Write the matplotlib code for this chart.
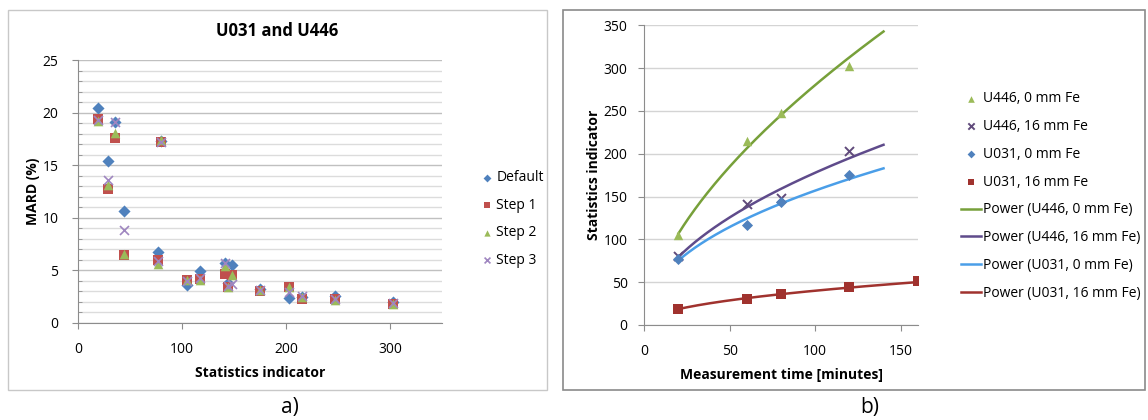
import numpy as np
import matplotlib.pyplot as plt
from matplotlib.patches import Rectangle
from matplotlib.ticker import MultipleLocator

plt.rcParams['font.family'] = ['Open Sans', 'DejaVu Sans']

# ---- panel a) MARD vs statistics indicator ----
stat_x = [19, 29, 36, 44, 77, 80, 105, 117, 141, 144, 148, 175, 203, 215, 247, 303]
mard_default = [20.4, 15.4, 19.1, 10.6, 6.75, 17.3, 3.6, 4.9, 5.7, 3.8, 5.55, 3.2, 2.4, 2.5, 2.6, 2.0]
mard_step1 = [19.4, 12.7, 17.6, 6.5, 6.0, 17.25, 4.05, 4.15, 4.63, 3.4, 4.6, 3.0, 3.4, 2.25, 2.3, 1.8]
mard_step2 = [19.2, 13.1, 18.05, 6.6, 5.6, 17.35, 4.1, 4.1, 5.4, 3.4, 4.6, 3.1, 3.45, 2.5, 2.2, 1.8]
mard_step3 = [19.3, 13.6, 19.1, 8.8, 5.9, 17.2, 4.0, 4.3, 5.7, 3.5, 3.75, 3.1, 2.9, 2.6, 2.3, 1.9]

# ---- panel b) statistics indicator vs measurement time ----
t_u446_0 = [20, 60, 80, 120]
s_u446_0 = [105, 215, 247, 303]
t_u446_16 = [20, 60, 80, 120]
s_u446_16 = [80, 141, 148, 203]
t_u031_0 = [20, 60, 80, 120]
s_u031_0 = [77, 117, 144, 175]
t_u031_16 = [20, 60, 80, 120, 160]
s_u031_16 = [19, 30, 36, 44, 51]

fig = plt.figure(figsize=(11.48, 4.2), dpi=100)

# chart frames
fig.patches.append(Rectangle((8 / 1148, 30 / 420), 539 / 1148, 380 / 420, transform=fig.transFigure,
                             fill=False, edgecolor='#c8c8c8', lw=1))
fig.patches.append(Rectangle((563 / 1148, 30 / 420), 582 / 1148, 380 / 420, transform=fig.transFigure,
                             fill=False, edgecolor='#8a8a8a', lw=1.2))

# ---------------- a) ----------------
ax1 = fig.add_axes([78 / 1148, 97 / 420, 364 / 1148, 263 / 420])
ax1.scatter(stat_x, mard_default, marker='D', s=38, color='#4F81BD', label='Default', zorder=3, lw=0)
ax1.scatter(stat_x, mard_step1, marker='s', s=48, color='#C0504D', label='Step 1', zorder=4, lw=0)
ax1.scatter(stat_x, mard_step2, marker='^', s=48, color='#9BBB59', label='Step 2', zorder=5, lw=0)
ax1.scatter(stat_x, mard_step3, marker='x', s=42, color='#9F86C0', label='Step 3', zorder=6, lw=1.2)
ax1.set_xlim(0, 350)
ax1.set_ylim(0, 25)
ax1.xaxis.set_major_locator(MultipleLocator(100))
ax1.yaxis.set_major_locator(MultipleLocator(5))
ax1.yaxis.set_minor_locator(MultipleLocator(1))
ax1.grid(True, which='major', axis='y', color='#c0c0c0', lw=1)
ax1.grid(True, which='minor', axis='y', color='#dcdcdc', lw=1)
ax1.set_axisbelow(True)
for s in ['top', 'right']:
    ax1.spines[s].set_visible(False)
for s in ['left', 'bottom']:
    ax1.spines[s].set_color('#8c8c8c')
ax1.tick_params(axis='both', which='major', labelsize=10, color='#8c8c8c', length=4, direction='out')
ax1.tick_params(axis='y', which='minor', length=3, color='#8c8c8c', direction='in')
ax1.tick_params(axis='x', pad=10)
ax1.tick_params(axis='y', pad=10)
ax1.set_xlabel('Statistics indicator', fontsize=10, fontweight='bold', labelpad=6)
ax1.set_ylabel('MARD (%)', fontsize=10, fontweight='bold', labelpad=2)
fig.text(277.5 / 1148, 1 - 31 / 420, 'U031 and U446', ha='center', va='center',
         fontsize=12, fontweight='bold')
ax1.legend(loc='center left', bbox_to_anchor=(470 / 1148, 1 - 219 / 420),
           bbox_transform=fig.transFigure, frameon=False, fontsize=10,
           handlelength=0.6, handletextpad=0.4, labelspacing=0.9, scatterpoints=1,
           markerscale=0.65)

# ---------------- b) ----------------
ax2 = fig.add_axes([644.3 / 1148, 95 / 420, 273.4 / 1148, 299.7 / 420])

fits = [
    (t_u446_0, s_u446_0, '^', '#9BBB59', '#77A03A', 'U446, 0 mm Fe', 20, 46),
    (t_u446_16, s_u446_16, 'x', '#604A7B', '#5F4B8B', 'U446, 16 mm Fe', 20, 42),
    (t_u031_0, s_u031_0, 'D', '#4F81BD', '#4A9EE8', 'U031, 0 mm Fe', 20, 32),
    (t_u031_16, s_u031_16, 's', '#A0322E', '#A0322E', 'U031, 16 mm Fe', 0, 46),
]
marker_handles = []
line_handles = []
for t, s_, mk, mc, lc, lab, fwd, sz in fits:
    t = np.array(t, dtype=float)
    s_ = np.array(s_, dtype=float)
    # Excel-style power trendline: least squares in log-log space
    b, ln_a = np.polyfit(np.log(t), np.log(s_), 1)
    tt = np.linspace(t.min(), t.max() + fwd, 200)
    ln, = ax2.plot(tt, np.exp(ln_a) * tt ** b, color=lc, lw=1.8, zorder=2,
                   label='Power (' + lab + ')')
    lw = 1.4 if mk == 'x' else 0
    sc = ax2.scatter(t, s_, marker=mk, s=sz, color=mc, lw=lw, zorder=3, label=lab)
    marker_handles.append(sc)
    line_handles.append(ln)

ax2.set_xlim(0, 160)
ax2.set_ylim(0, 350)
ax2.xaxis.set_major_locator(MultipleLocator(50))
ax2.yaxis.set_major_locator(MultipleLocator(50))
ax2.grid(True, axis='y', color='#d4d4d4', lw=1)
ax2.set_axisbelow(True)
for s in ['top', 'right']:
    ax2.spines[s].set_visible(False)
for s in ['left', 'bottom']:
    ax2.spines[s].set_color('#8c8c8c')
ax2.tick_params(axis='both', labelsize=10, color='#8c8c8c', length=4, direction='out')
ax2.tick_params(axis='x', pad=10)
ax2.tick_params(axis='y', pad=8)
ax2.set_xlabel('Measurement time [minutes]', fontsize=10, fontweight='bold', labelpad=6)
ax2.set_ylabel('Statistics indicator', fontsize=10, fontweight='bold', labelpad=2)

ax2.legend(handles=marker_handles + line_handles, loc='center left',
           bbox_to_anchor=(948 / 1148, 1 - 196 / 420), bbox_transform=fig.transFigure,
           frameon=False, fontsize=10, handlelength=1.5, handletextpad=0.15,
           labelspacing=0.92, scatterpoints=1, markerscale=0.7)

# panel labels
fig.text(290 / 1148, 1 - 408 / 420, 'a)', ha='center', va='center', fontsize=15)
fig.text(870 / 1148, 1 - 408 / 420, 'b)', ha='center', va='center', fontsize=15)

fig.savefig('out.png', dpi=100)
